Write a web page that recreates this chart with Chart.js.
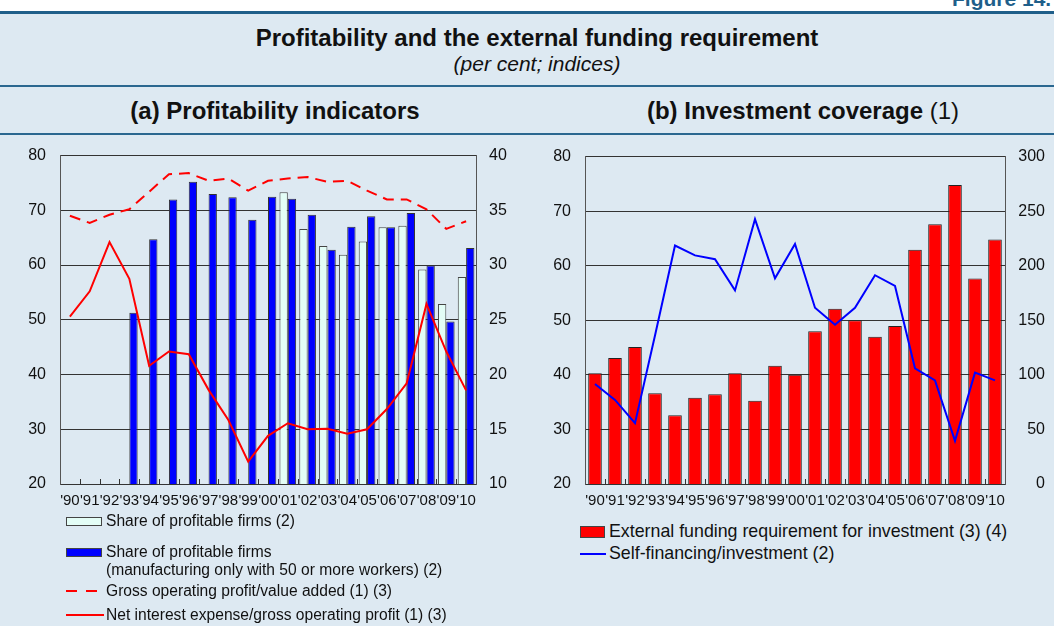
<!DOCTYPE html>
<html>
<head>
<meta charset="utf-8">
<script src="https://cdn.jsdelivr.net/npm/chart.js@4.4.0/dist/chart.umd.min.js"></script>
<style>
  body { margin: 0; width: 1054px; height: 626px; overflow: hidden; background: #fff;
         font-family: "Liberation Sans", Arial, sans-serif; color: #111; position: relative; }
  .abs { position: absolute; }
  #panel { left: 0; top: 11px; width: 1054px; height: 612px; background: #dde9f2; border-top: 3px solid #1f5f8a; }
  #fig { top: -12px; left: 952px; font-weight: bold; font-size: 21px; line-height: 21px; color: #1f5f8a; white-space: nowrap; }
  .rule { left: 0; width: 1054px; height: 2px; background: #2a6790; }
  .center { text-align: center; white-space: nowrap; }
  #title { top: 24px; left: 0; width: 1074px; font-weight: bold; font-size: 24px; }
  #sub { top: 52px; left: 0; width: 1074px; font-style: italic; font-size: 21px; }
  .ptitle { top: 97px; font-weight: bold; font-size: 24px; }
  canvas { position: absolute; }
  .leg { font-size: 15.6px; white-space: nowrap; line-height: 18px; }
  .legb { font-size: 17.8px; white-space: nowrap; line-height: 21px; }
  .sw { position: absolute; box-sizing: border-box; border: 1px solid #444; }
</style>
</head>
<body>
<div id="fig" class="abs">Figure 14.</div>
<div id="panel" class="abs"></div>
<div id="title" class="abs center">Profitability and the external funding requirement</div>
<div id="sub" class="abs center">(per cent; indices)</div>
<div class="abs rule" style="top:85px"></div>
<div class="abs ptitle center" style="left:60px;width:430px">(a) Profitability indicators</div>
<div class="abs ptitle center" style="left:588px;width:430px">(b) Investment coverage <span style="font-weight:normal">(1)</span></div>
<div class="abs rule" style="top:133px"></div>

<canvas id="left" width="496" height="382" style="left:20px;top:132px"></canvas>
<canvas id="right" width="500" height="382" style="left:545px;top:132px"></canvas>

<!-- legend (a) -->
<div class="sw" style="left:66px;top:517px;width:36px;height:9px;background:#e3fdf6"></div>
<div class="abs leg" style="left:106px;top:512px">Share of profitable firms (2)</div>
<div class="sw" style="left:66px;top:548px;width:36px;height:9px;background:#0000ff"></div>
<div class="abs leg" style="left:106px;top:543px">Share of profitable firms<br>(manufacturing only with 50 or more workers) (2)</div>
<svg class="abs" style="left:66px;top:586px" width="38" height="10"><line x1="0" y1="5" x2="38" y2="5" stroke="#ff0000" stroke-width="2" stroke-dasharray="11,9"/></svg>
<div class="abs leg" style="left:106px;top:582px">Gross operating profit/value added (1) (3)</div>
<svg class="abs" style="left:66px;top:610px" width="38" height="10"><line x1="0" y1="5" x2="38" y2="5" stroke="#ff0000" stroke-width="2"/></svg>
<div class="abs leg" style="left:106px;top:606px">Net interest expense/gross operating profit (1) (3)</div>

<!-- legend (b) -->
<div class="sw" style="left:580px;top:526px;width:25px;height:12px;background:#ff0000"></div>
<div class="abs legb" style="left:609px;top:521px">External funding requirement for investment (3) (4)</div>
<svg class="abs" style="left:580px;top:549px" width="26" height="10"><line x1="0" y1="5" x2="26" y2="5" stroke="#0000ff" stroke-width="2"/></svg>
<div class="abs legb" style="left:609px;top:543px">Self-financing/investment (2)</div>

<script>
const years = ["'90", "'91", "'92", "'93", "'94", "'95", "'96", "'97", "'98", "'99", "'00",
               "'01", "'02", "'03", "'04", "'05", "'06", "'07", "'08", "'09", "'10"];

// (a) profitability indicators
const shareAll = [null, null, null, null, null, null, null, null, null, null, null,
                  73.3, 66.6, 63.5, 61.9, 64.3, 66.9, 67.2, 59.2, 52.9, 57.8];
const shareMfg = [null, null, null, 51.3, 64.7, 72.0, 75.2, 73.0, 72.4, 68.3, 72.5,
                  72.1, 69.2, 62.8, 67.0, 68.9, 66.9, 69.5, 59.9, 49.7, 63.1];
const gopVa = [34.5, 33.85, 34.6, 35.1, 36.7, 38.3, 38.4, 37.7, 37.9, 36.8, 37.7,
               37.9, 38.05, 37.6, 37.7, 36.8, 36.0, 36.0, 35.1, 33.3, 34.0];
const netInt = [25.3, 27.6, 32.1, 28.75, 20.8, 22.1, 21.85, 18.6, 15.85, 12.05, 14.4,
                15.55, 15.0, 15.05, 14.6, 15.0, 16.85, 19.2, 26.45, 22.1, 18.55];

// (b) investment coverage
const extFund = [40.3, 43.1, 45.1, 36.65, 32.6, 35.8, 36.45, 40.3, 35.25, 41.65, 40.0,
                 48.0, 52.1, 50.0, 47.0, 48.95, 62.95, 67.6, 74.8, 57.65, 64.8];
const selfFin = [91.7, 77, 55.8, 136, 218.5, 209.5, 206, 177.4, 242.6, 188.5, 220,
                 161.5, 146, 161.5, 191.3, 181.5, 106, 95, 39.5, 102, 95];

const gridCol = '#333';
const tickFont = { family: 'Liberation Sans', size: 16 };

// short marks between categories, pointing up into the plot
const innerTicks = {
  id: 'innerTicks',
  afterDatasetsDraw(chart) {
    const x = chart.scales.x, a = chart.chartArea, c = chart.ctx;
    c.save();
    c.strokeStyle = gridCol;
    c.lineWidth = 1;
    for (let i = 1; i < years.length; i++) {
      const px = Math.round((x.getPixelForTick(i - 1) + x.getPixelForTick(i)) / 2) + 0.5;
      c.beginPath();
      c.moveTo(px, a.bottom);
      c.lineTo(px, a.bottom - 5);
      c.stroke();
    }
    c.restore();
  }
};

function scales(rMin, rMax, rStep, rAlign) {
  return {
    x: {
      grid: { drawOnChartArea: false, drawTicks: false },
      border: { color: gridCol },
      ticks: { autoSkip: false, maxRotation: 0, minRotation: 0, padding: 8, color: '#111',
               font: { family: 'Liberation Sans', size: 15 } },
      afterFit: s => { s.height = 30; }
    },
    y: {
      min: 20, max: 80,
      ticks: { stepSize: 10, padding: 14, color: '#111', font: tickFont },
      grid: { color: gridCol, drawTicks: false },
      border: { color: '#555' },
      afterFit: s => { s.width = 40; }
    },
    y1: {
      position: 'right', min: rMin, max: rMax,
      ticks: { stepSize: rStep, padding: rAlign === 'far' ? 15 : 13, crossAlign: rAlign,
               color: '#111', font: tickFont },
      grid: { display: false, drawTicks: false },
      border: { color: '#555' },
      afterFit: s => { s.width = 40; }
    }
  };
}

const common = {
  responsive: false,
  animation: false,
  layout: { padding: { top: 0 } },
  plugins: { legend: { display: false }, tooltip: { enabled: false } }
};

new Chart(document.getElementById('left').getContext('2d'), {
  type: 'bar',
  data: {
    labels: years,
    datasets: [
      { type: 'line', data: gopVa, yAxisID: 'y1', borderColor: '#ff0000', borderWidth: 2,
        borderDash: [11, 7], pointRadius: 0, tension: 0, order: 0 },
      { type: 'line', data: netInt, yAxisID: 'y1', borderColor: '#ff0000', borderWidth: 2,
        pointRadius: 0, tension: 0, order: 0 },
      { data: shareAll, backgroundColor: '#e3fdf6', borderColor: '#444', borderWidth: 1,
        categoryPercentage: 0.84, barPercentage: 1, order: 1 },
      { data: shareMfg, backgroundColor: '#0000ff', borderColor: '#333', borderWidth: 1,
        categoryPercentage: 0.84, barPercentage: 1, order: 1 }
    ]
  },
  options: { ...common, scales: scales(10, 40, 5, 'near') },
  plugins: [innerTicks]
});

new Chart(document.getElementById('right').getContext('2d'), {
  type: 'bar',
  data: {
    labels: years,
    datasets: [
      { type: 'line', data: selfFin, yAxisID: 'y1', borderColor: '#0000ff', borderWidth: 2,
        pointRadius: 0, tension: 0, order: 0 },
      { data: extFund, backgroundColor: '#ff0000', borderColor: '#222', borderWidth: 1,
        categoryPercentage: 1, barPercentage: 0.68, order: 1 }
    ]
  },
  options: { ...common, scales: scales(0, 300, 50, 'far') },
  plugins: [innerTicks]
});
</script>
</body>
</html>
